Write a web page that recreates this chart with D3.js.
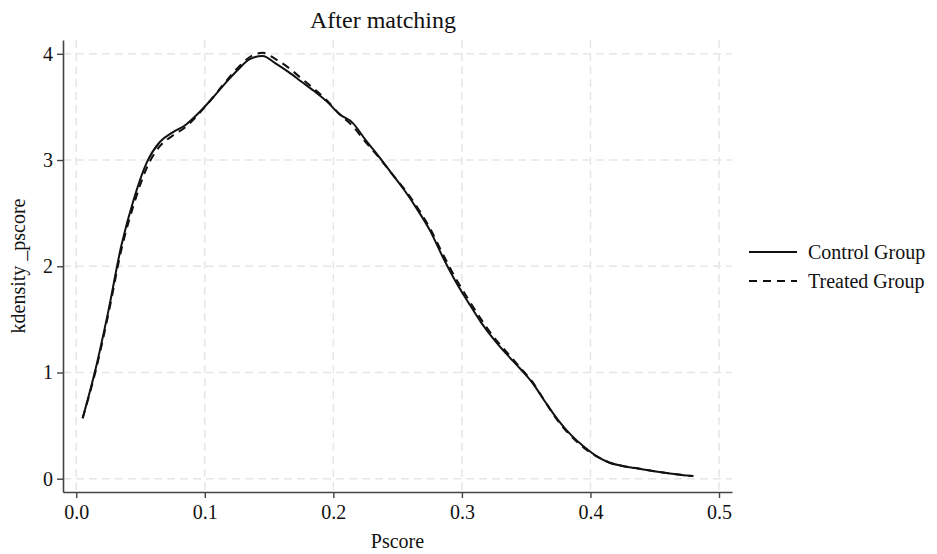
<!DOCTYPE html>
<html>
<head>
<meta charset="utf-8">
<script src="https://cdn.jsdelivr.net/npm/d3@7"></script>
<style>
  body { margin: 0; background: #fff; }
  text { font-family: "Liberation Serif", "Times New Roman", serif; fill: #111; }
</style>
</head>
<body>
<div class="container"></div>
<script>
const WIDTH = 937;
const HEIGHT = 554;

// pscore grid and kernel density estimates
var pscore = [0.005, 0.015, 0.025, 0.035, 0.045, 0.055, 0.065, 0.075, 0.085, 0.095,
  0.105, 0.115, 0.125, 0.135, 0.145, 0.155, 0.165, 0.175, 0.185, 0.195,
  0.205, 0.215, 0.225, 0.235, 0.245, 0.255, 0.265, 0.275, 0.285, 0.295,
  0.305, 0.315, 0.325, 0.335, 0.345, 0.355, 0.365, 0.375, 0.385, 0.395,
  0.405, 0.415, 0.425, 0.435, 0.445, 0.455, 0.465, 0.475, 0.480];

var control = [0.57, 1.03, 1.58, 2.19, 2.64, 2.98, 3.17, 3.26, 3.33, 3.44,
  3.57, 3.71, 3.84, 3.95, 3.98, 3.91, 3.83, 3.74, 3.65, 3.55,
  3.43, 3.35, 3.19, 3.04, 2.88, 2.72, 2.54, 2.34, 2.09, 1.86,
  1.66, 1.47, 1.31, 1.17, 1.04, 0.90, 0.72, 0.55, 0.41, 0.30,
  0.21, 0.15, 0.12, 0.10, 0.08, 0.06, 0.045, 0.03, 0.025];

var treated = [0.57, 1.01, 1.55, 2.15, 2.59, 2.93, 3.13, 3.23, 3.31, 3.43,
  3.57, 3.72, 3.86, 3.97, 4.01, 3.95, 3.87, 3.77, 3.67, 3.56,
  3.43, 3.32, 3.17, 3.03, 2.88, 2.73, 2.56, 2.36, 2.12, 1.89,
  1.69, 1.50, 1.33, 1.19, 1.05, 0.91, 0.72, 0.54, 0.40, 0.29,
  0.21, 0.15, 0.12, 0.10, 0.08, 0.06, 0.045, 0.03, 0.025];

var xTicks = [0, 0.1, 0.2, 0.3, 0.4, 0.5];
var yTicks = [0, 1, 2, 3, 4];
var seriesNames = ['Control Group', 'Treated Group'];

var plot = { left: 63, right: 732, top: 40, bottom: 492 };

var svg = d3.select('.container').append('svg')
  .attr('width', WIDTH)
  .attr('height', HEIGHT);

var x = d3.scaleLinear()
  .domain([-0.0103, 0.5101])
  .range([plot.left, plot.right]);

var y = d3.scaleLinear()
  .domain([-0.125, 4.13])
  .range([plot.bottom, plot.top]);

// grid
svg.append('g').selectAll('line')
  .data(xTicks)
  .enter().append('line')
  .attr('x1', function (d) { return x(d); })
  .attr('x2', function (d) { return x(d); })
  .attr('y1', plot.top)
  .attr('y2', plot.bottom)
  .attr('stroke', '#e6e6e6')
  .attr('stroke-width', 1.5)
  .attr('stroke-dasharray', '8,5');

svg.append('g').selectAll('line')
  .data(yTicks)
  .enter().append('line')
  .attr('x1', plot.left)
  .attr('x2', plot.right)
  .attr('y1', function (d) { return y(d); })
  .attr('y2', function (d) { return y(d); })
  .attr('stroke', '#e6e6e6')
  .attr('stroke-width', 1.5)
  .attr('stroke-dasharray', '8,5');

// axes
var xAxis = svg.append('g')
  .attr('transform', 'translate(0,' + plot.bottom + ')')
  .call(d3.axisBottom(x).tickValues(xTicks).tickFormat(d3.format('.1f')).tickSize(6).tickSizeOuter(0));

var yAxis = svg.append('g')
  .attr('transform', 'translate(' + plot.left + ',0)')
  .call(d3.axisLeft(y).tickValues(yTicks).tickFormat(d3.format('d')).tickSize(6).tickSizeOuter(0));

[xAxis, yAxis].forEach(function (ax) {
  ax.select('.domain').attr('stroke', '#444').attr('stroke-width', 1.6);
  ax.selectAll('.tick line').attr('stroke', '#444').attr('stroke-width', 1.4);
  ax.selectAll('.tick text')
    .style('font-family', '"Liberation Serif", serif')
    .style('font-size', '20px')
    .attr('fill', '#111');
});
xAxis.selectAll('.tick text').attr('y', 13);
yAxis.selectAll('.tick text').attr('x', -10);

// curves
var line = d3.line()
  .x(function (d) { return x(d[0]); })
  .y(function (d) { return y(d[1]); })
  .curve(d3.curveMonotoneX);

svg.append('path')
  .datum(d3.zip(pscore, treated))
  .attr('d', line)
  .attr('fill', 'none')
  .attr('stroke', '#111')
  .attr('stroke-width', 2)
  .attr('stroke-dasharray', '8,6');

svg.append('path')
  .datum(d3.zip(pscore, control))
  .attr('d', line)
  .attr('fill', 'none')
  .attr('stroke', '#111')
  .attr('stroke-width', 2);

// titles
svg.append('text')
  .attr('x', 383)
  .attr('y', 28)
  .attr('text-anchor', 'middle')
  .style('font-size', '24px')
  .text('After matching');

svg.append('text')
  .attr('x', (plot.left + plot.right) / 2)
  .attr('y', 548)
  .attr('text-anchor', 'middle')
  .style('font-size', '20px')
  .text('Pscore');

svg.append('text')
  .attr('transform', 'translate(25,' + (plot.top + plot.bottom) / 2 + ') rotate(-90)')
  .attr('text-anchor', 'middle')
  .style('font-size', '20px')
  .text('kdensity _pscore');

// legend
var legend = svg.append('g').selectAll('g')
  .data(seriesNames)
  .enter().append('g')
  .attr('transform', function (d, i) { return 'translate(749,' + (252 + i * 29) + ')'; });

legend.append('line')
  .attr('x1', 0)
  .attr('x2', 48)
  .attr('stroke', '#111')
  .attr('stroke-width', 2)
  .attr('stroke-dasharray', function (d, i) { return i ? '8,6' : null; });

legend.append('text')
  .attr('x', 59)
  .attr('dy', '0.35em')
  .style('font-size', '20px')
  .text(function (d) { return d; });
</script>
</body>
</html>
